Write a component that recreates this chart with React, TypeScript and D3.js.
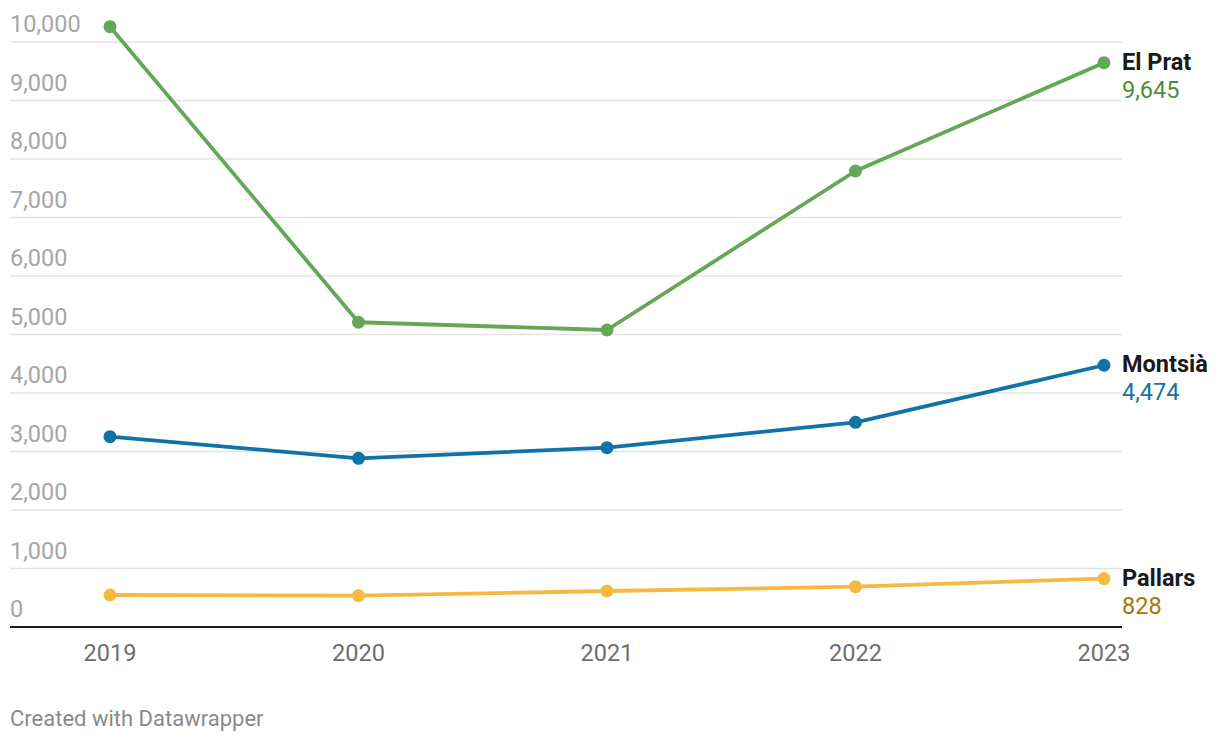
import React from "react";
import * as d3 from "d3";

const years = ["2019", "2020", "2021", "2022", "2023"];
const elPrat = [10262, 5209, 5077, 7795, 9645];
const montsia = [3253, 2884, 3065, 3499, 4474];
const pallars = [547, 535, 615, 689, 828];
const yTicks = [0, 1000, 2000, 3000, 4000, 5000, 6000, 7000, 8000, 9000, 10000];

const seriesList = [
  { name: "El Prat", values: elPrat, color: "#64a857", textColor: "#4b8f3d" },
  { name: "Montsià", values: montsia, color: "#0f73a8", textColor: "#1473a8" },
  { name: "Pallars", values: pallars, color: "#f6b941", textColor: "#a97800" },
];

const W = 1220;
const H = 744;

export default function App() {
  const x = d3.scalePoint<string>().domain(years).range([110, 1104]);
  const y = d3.scaleLinear().domain([0, 10000]).range([627, 42]);
  const fmt = d3.format(",");
  const line = d3
    .line<number>()
    .x((_, i) => x(years[i]) as number)
    .y((d) => y(d));
  const font = "Roboto, 'Noto Sans', sans-serif";
  const gridX1 = 10;
  const gridX2 = 1122;

  return (
    <svg
      width={W}
      height={H}
      style={{ position: "absolute", left: 0, top: 0, background: "#fff" }}
      fontFamily={font}
    >
      {yTicks.map((t) => (
        <g key={t}>
          {t > 0 && (
            <line x1={gridX1} x2={gridX2} y1={y(t)} y2={y(t)} stroke="#e3e3e3" strokeWidth={1.5} />
          )}
          <text x={gridX1} y={y(t) - 10} fontSize={23.5} fill="#a6a6a6">
            {fmt(t)}
          </text>
        </g>
      ))}
      <line x1={gridX1} x2={gridX2} y1={y(0)} y2={y(0)} stroke="#1a1a1a" strokeWidth={2} />
      {years.map((yr) => (
        <text key={yr} x={x(yr)} y={661} fontSize={23.5} fill="#6e6e6e" textAnchor="middle">
          {yr}
        </text>
      ))}
      {seriesList.map((s) => {
        const lastY = y(s.values[s.values.length - 1]);
        return (
          <g key={s.name}>
            <path d={line(s.values) || ""} fill="none" stroke={s.color} strokeWidth={3.8} strokeLinejoin="round" />
            {s.values.map((v, i) => (
              <circle key={i} cx={x(years[i])} cy={y(v)} r={6.5} fill={s.color} />
            ))}
            <text x={1122} y={lastY + 7} fontSize={23.5} fontWeight="bold" fill="#1a1a1a">
              {s.name}
            </text>
            <text x={1122} y={lastY + 35} fontSize={23.5} fill={s.textColor}>
              {fmt(s.values[s.values.length - 1])}
            </text>
          </g>
        );
      })}
      <text x={10} y={726} fontSize={22} fill="#8a8a8a">
        Created with Datawrapper
      </text>
    </svg>
  );
}
